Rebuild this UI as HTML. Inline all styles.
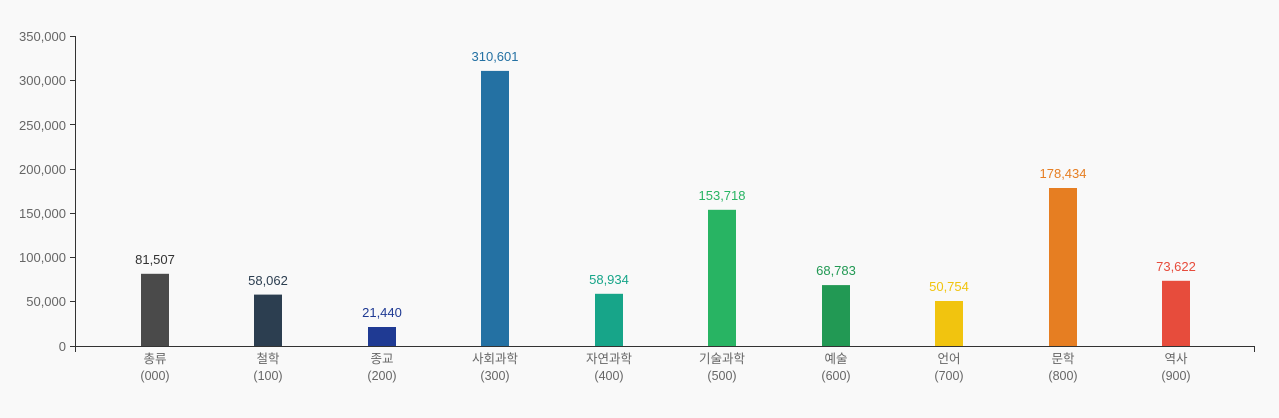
<!DOCTYPE html>
<html><head><meta charset="utf-8"><style>
html,body{margin:0;padding:0;background:#f9f9f9;}
svg{display:block;font-family:"Liberation Sans","Noto Sans CJK KR",sans-serif;}
</style></head><body>
<svg width="1279" height="418" viewBox="0 0 1279 418" xmlns="http://www.w3.org/2000/svg">
<rect width="1279" height="418" fill="#f9f9f9"/>
<g font-size="13" fill="#666" text-anchor="end">
<text x="66" y="41">350,000</text>
<text x="66" y="85">300,000</text>
<text x="66" y="130">250,000</text>
<text x="66" y="174">200,000</text>
<text x="66" y="218">150,000</text>
<text x="66" y="262">100,000</text>
<text x="66" y="306">50,000</text>
<text x="66" y="351">0</text>
</g>
<g stroke="#333" stroke-width="1">
<line x1="75.5" y1="36" x2="75.5" y2="346"/>
<line x1="70" y1="36.5" x2="75" y2="36.5"/>
<line x1="70" y1="80.5" x2="75" y2="80.5"/>
<line x1="70" y1="124.5" x2="75" y2="124.5"/>
<line x1="70" y1="169.5" x2="75" y2="169.5"/>
<line x1="70" y1="213.5" x2="75" y2="213.5"/>
<line x1="70" y1="257.5" x2="75" y2="257.5"/>
<line x1="70" y1="301.5" x2="75" y2="301.5"/>
<line x1="70" y1="346.5" x2="1255" y2="346.5"/>
<line x1="75.5" y1="346" x2="75.5" y2="352"/>
<line x1="1254.5" y1="346" x2="1254.5" y2="352"/>
</g>
<g>
<rect x="141" y="273.8" width="28" height="72.2" fill="#4a4a4a"/>
<rect x="254" y="294.6" width="28" height="51.4" fill="#2c3e50"/>
<rect x="368" y="327" width="28" height="19" fill="#1f3a93"/>
<rect x="481" y="70.9" width="28" height="275.1" fill="#2471a3"/>
<rect x="595" y="293.8" width="28" height="52.2" fill="#17a589"/>
<rect x="708" y="209.8" width="28" height="136.2" fill="#28b463"/>
<rect x="822" y="285.1" width="28" height="60.9" fill="#229954"/>
<rect x="935" y="301" width="28" height="45" fill="#f1c40f"/>
<rect x="1049" y="188" width="28" height="158" fill="#e67e22"/>
<rect x="1162" y="280.8" width="28" height="65.2" fill="#e74c3c"/>
</g>
<g font-size="13" text-anchor="middle">
<text x="155" y="264" fill="#333">81,507</text>
<text x="268" y="285" fill="#2c3e50">58,062</text>
<text x="382" y="317" fill="#1f3a93">21,440</text>
<text x="495" y="61" fill="#2471a3">310,601</text>
<text x="609" y="284" fill="#17a589">58,934</text>
<text x="722" y="200" fill="#28b463">153,718</text>
<text x="836" y="275" fill="#229954">68,783</text>
<text x="949" y="291" fill="#f1c40f">50,754</text>
<text x="1063" y="178" fill="#e67e22">178,434</text>
<text x="1176" y="271" fill="#e74c3c">73,622</text>
</g>
<g font-size="12.5" fill="#666" text-anchor="middle">
<text x="155" y="363">총류</text><text x="155" y="380">(000)</text>
<text x="268" y="363">철학</text><text x="268" y="380">(100)</text>
<text x="382" y="363">종교</text><text x="382" y="380">(200)</text>
<text x="495" y="363">사회과학</text><text x="495" y="380">(300)</text>
<text x="609" y="363">자연과학</text><text x="609" y="380">(400)</text>
<text x="722" y="363">기술과학</text><text x="722" y="380">(500)</text>
<text x="836" y="363">예술</text><text x="836" y="380">(600)</text>
<text x="949" y="363">언어</text><text x="949" y="380">(700)</text>
<text x="1063" y="363">문학</text><text x="1063" y="380">(800)</text>
<text x="1176" y="363">역사</text><text x="1176" y="380">(900)</text>
</g>
</svg>
</body></html>
